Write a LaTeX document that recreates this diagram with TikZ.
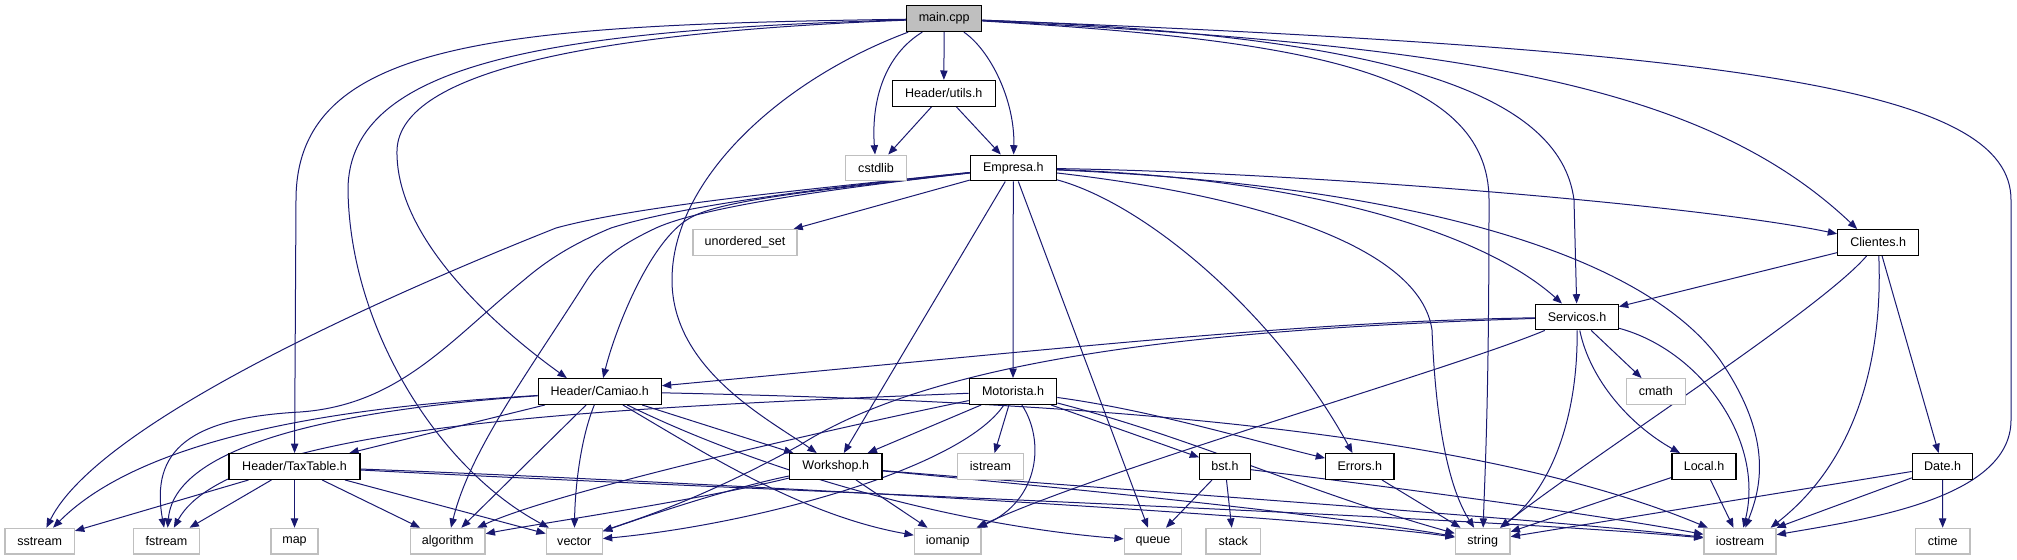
\documentclass[tikz,border=0pt]{standalone}
\usepackage{fontspec}
\setmainfont{Liberation Sans}
\usetikzlibrary{arrows.meta,calc}
\pgfdeclarelayer{bg}
\pgfsetlayers{bg,main}
\definecolor{edgec}{RGB}{25,25,112}
\definecolor{gfill}{RGB}{191,191,191}
\definecolor{gline}{RGB}{191,191,191}
\begin{document}
\begin{tikzpicture}[x=0.75pt,y=-0.75pt,
  e/.style={draw=edgec,line width=0.75pt,-{Triangle[length=7pt,width=5.5pt]}},
  nd/.style={draw=black,line width=0.9pt,fill=white,minimum height=19.3pt,inner sep=0pt,font=\fontsize{9.4pt}{11pt}\selectfont},
  ext/.style={nd,draw=gline},
  root/.style={nd,fill=gfill}]
\useasboundingbox (0,0) rectangle (2017,560);
\node[root, minimum width=56.25pt] (main) at (944.2,18.7) {main.cpp};
\node[nd, minimum width=77.25pt] (utils) at (943.8,93.3) {Header/utils.h};
\node[ext, minimum width=45.45pt] (cstdlib) at (876,168) {cstdlib};
\node[nd, minimum width=64.5pt] (empresa) at (1013.3,168) {Empresa.h};
\node[ext, minimum width=78pt] (uset) at (745,242.5) {unordered\_set};
\node[nd, minimum width=60.75pt] (clientes) at (1878.2,242.5) {Clientes.h};
\node[nd, minimum width=61.95pt] (servicos) at (1577,317) {Servicos.h};
\node[nd, minimum width=92.25pt] (camiao) at (599.8,391.5) {Header/Camiao.h};
\node[nd, minimum width=65.55pt] (motorista) at (1013,391.5) {Motorista.h};
\node[ext, minimum width=44.25pt] (cmath) at (1655.8,391.5) {cmath};
\node[nd, minimum width=98.25pt] (taxtable) at (294.5,466.5) {Header/TaxTable.h};
\node[nd, minimum width=69.2pt] (workshop) at (835.8,466.5) {Workshop.h};
\node[ext, minimum width=49.2pt] (istream) at (990.5,466.5) {istream};
\node[nd, minimum width=37.95pt] (bst) at (1225,466.5) {bst.h};
\node[nd, minimum width=51.2pt] (errors) at (1359.8,466.5) {Errors.h};
\node[nd, minimum width=48pt] (local) at (1704,466.5) {Local.h};
\node[nd, minimum width=45.3pt] (date) at (1942.5,466.5) {Date.h};
\node[ext, minimum width=52pt] (sstream) at (39.7,541.2) {sstream};
\node[ext, minimum width=49.2pt] (fstream) at (166.5,541.2) {fstream};
\node[ext, minimum width=35.25pt] (map) at (294.5,541.2) {map};
\node[ext, minimum width=56pt] (algorithm) at (447.7,541.2) {algorithm};
\node[ext, minimum width=42pt] (vector) at (574.3,541.2) {vector};
\node[ext, minimum width=50pt] (iomanip) at (947.7,541.2) {iomanip};
\node[ext, minimum width=43pt] (queue) at (1153,541.2) {queue};
\node[ext, minimum width=40.7pt] (stack) at (1233.2,541.2) {stack};
\node[ext, minimum width=41pt] (string) at (1482.7,541.2) {string};
\node[ext, minimum width=54pt] (iostream) at (1740,541.2) {iostream};
\node[ext, minimum width=41pt] (ctime) at (1942.7,541.2) {ctime};
\begin{pgfonlayer}{bg}
% main.cpp
\draw[e] (main) -- (utils);
\draw[e] (main) .. controls (885,55) and (871,100) .. (cstdlib);
\draw[e] (main) .. controls (990,50) and (1015,100) .. (empresa);
\draw[e] (main) .. controls (500,25) and (296,40) .. (296,200) -- (taxtable);
\draw[e] (main) .. controls (560,30) and (348,60) .. (348,190) .. controls (350,330) and (440,470) .. (vector);
\draw[e] (main) .. controls (600,32) and (400,70) .. (397,150) .. controls (395,240) and (500,330) .. ($(camiao.north)+(-33,0)$);
\draw[e] (main) .. controls (780,80) and (672,180) .. (672,280) .. controls (672,370) and (770,420) .. (workshop);
\draw[e] (main) .. controls (1300,40) and (1489,70) .. (1489,200) .. controls (1489,400) and (1485,470) .. (string);
\draw[e] (main) .. controls (1380,35) and (1560,90) .. (1574,200) -- (servicos);
\draw[e] (main) .. controls (1450,45) and (1700,80) .. ($(clientes.north)+(-21,0)$);
\draw[e] (main) .. controls (1750,50) and (2011,90) .. (2011,200) -- (2011,420) .. controls (2011,500) and (1860,520) .. (iostream);
% utils
\draw[e] (utils) -- (cstdlib);
\draw[e] (utils) -- (empresa);
% Empresa
\draw[e] (empresa) -- (uset);
\draw[e] (empresa) -- (motorista);
\draw[e] (empresa) -- (workshop);
\draw[e] (empresa) -- (queue);
\draw[e] (empresa) .. controls (1150,205) and (1280,320) .. (errors);
\draw[e] (empresa) .. controls (820,190) and (720,200) .. (690,218) .. controls (650,240) and (615,330) .. (camiao);
\draw[e] (empresa) .. controls (820,188) and (640,205) .. (556,228) .. controls (400,290) and (100,420) .. (sstream);
\draw[e] (empresa) .. controls (820,188) and (680,206) .. (611,228) .. controls (570,245) and (545,262) .. (524,280) .. controls (450,340) and (400,405) .. (300,412) .. controls (190,418) and (150,450) .. (fstream);
\draw[e] (empresa) .. controls (820,190) and (700,208) .. (656,228) .. controls (620,245) and (600,260) .. (587,280) .. controls (530,370) and (470,450) .. (algorithm);
\draw[e] (empresa) .. controls (1300,172) and (1700,205) .. (clientes);
\draw[e] (empresa) .. controls (1300,178) and (1480,230) .. (servicos);
\draw[e] (empresa) .. controls (1400,185) and (1640,250) .. (1720,360) .. controls (1775,440) and (1760,490) .. (iostream);
\draw[e] (empresa) .. controls (1250,195) and (1420,245) .. (1432,330) .. controls (1436,430) and (1450,490) .. (string);
% Clientes
\draw[e] (clientes) -- (servicos);
\draw[e] (clientes) .. controls (1820,310) and (1600,450) .. (string);
\draw[e] (clientes) .. controls (1882,330) and (1870,450) .. ($(iostream.north east)+(-6,0)$);
\draw[e] (clientes) -- (date);
% Servicos
\draw[e] (servicos) .. controls (1300,322) and (1100,345) .. (camiao);
\draw[e] (servicos) .. controls (1250,328) and (950,350) .. (800,445) .. controls (700,500) and (640,518) .. (vector);
\draw[e] (servicos) .. controls (1450,370) and (1100,470) .. (iomanip);
\draw[e] (servicos) -- (cmath);
\draw[e] (servicos) .. controls (1590,380) and (1630,425) .. (local);
\draw[e] (servicos) .. controls (1578,420) and (1550,490) .. (string);
\draw[e] (servicos) .. controls (1700,350) and (1765,440) .. (iostream);
% Camiao
\draw[e] (camiao) -- (taxtable);
\draw[e] (camiao) -- (workshop);
\draw[e] (camiao) .. controls (420,403) and (160,420) .. (sstream);
\draw[e] (camiao) .. controls (360,408) and (175,440) .. (fstream);
\draw[e] (camiao) -- (algorithm);
\draw[e] (camiao) .. controls (580,440) and (575,490) .. (vector);
\draw[e] (camiao) .. controls (700,450) and (800,515) .. (iomanip);
\draw[e] (camiao) .. controls (760,470) and (950,525) .. (queue);
\draw[e] (camiao) .. controls (1000,400) and (1450,420) .. (iostream);
% Motorista
\draw[e] (motorista) .. controls (600,408) and (230,425) .. (fstream);
\draw[e] (motorista) -- (workshop);
\draw[e] (motorista) .. controls (850,425) and (560,490) .. (algorithm);
\draw[e] (motorista) .. controls (960,470) and (750,525) .. (vector);
\draw[e] (motorista) -- (istream);
\draw[e] (motorista) .. controls (1045,440) and (1040,500) .. (iomanip);
\draw[e] (motorista) -- (bst);
\draw[e] (motorista) .. controls (1150,410) and (1250,440) .. (errors);
\draw[e] (motorista) .. controls (1200,440) and (1300,490) .. (string);
% TaxTable
\draw[e] (taxtable) -- (sstream);
\draw[e] (taxtable) -- (fstream);
\draw[e] (taxtable) -- (map);
\draw[e] (taxtable) -- (algorithm);
\draw[e] (taxtable) -- (vector);
\draw[e] (taxtable) .. controls (700,482) and (1300,515) .. (string);
\draw[e] (taxtable) .. controls (700,488) and (1450,515) .. (iostream);
% Workshop
\draw[e] (workshop) .. controls (730,488) and (650,515) .. (vector);
\draw[e] (workshop) .. controls (700,500) and (530,525) .. (algorithm);
\draw[e] (workshop) -- (iomanip);
\draw[e] (workshop) .. controls (1000,482) and (1300,510) .. (string);
\draw[e] (workshop) .. controls (1050,485) and (1500,515) .. (iostream);
% bst
\draw[e] (bst) -- (queue);
\draw[e] (bst) -- (stack);
\draw[e] (bst) .. controls (1400,488) and (1600,515) .. (iostream);
% others
\draw[e] (errors) -- (string);
\draw[e] (local) -- (string);
\draw[e] (local) -- (iostream);
\draw[e] (date) -- (string);
\draw[e] (date) -- (iostream);
\draw[e] (date) -- (ctime);
\end{pgfonlayer}
\end{tikzpicture}
\end{document}
